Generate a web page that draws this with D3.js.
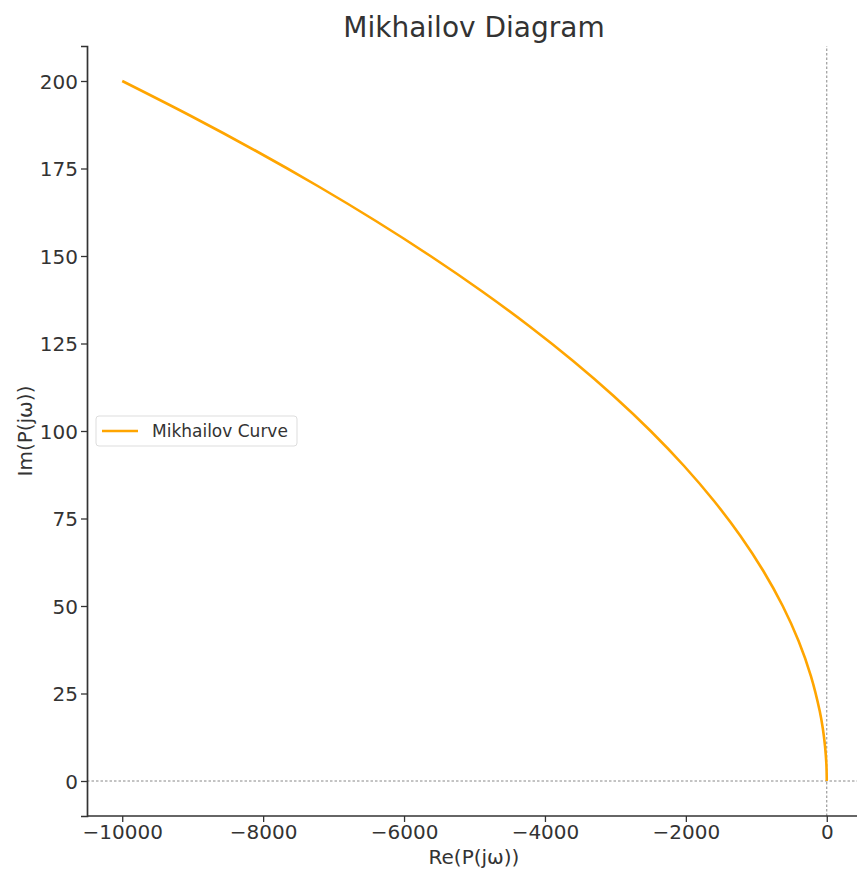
<!DOCTYPE html>
<html>
<head>
<meta charset="utf-8">
<script src="https://cdn.jsdelivr.net/npm/d3@7"></script>
<style>
  body { margin: 0; background: #fff; }
  text { font-family: "DejaVu Sans", sans-serif; fill: #333; }
</style>
</head>
<body>
<script>
var imPart = [0, 5, 10, 15, 20, 30, 40, 50, 60, 70, 80, 90, 100, 110, 120, 130, 140, 150, 160, 170, 180, 190, 200];
var rePart = [0, -6, -25, -56, -100, -225, -400, -625, -900, -1225, -1600, -2025, -2500, -3025, -3600, -4225, -4900, -5625, -6400, -7225, -8100, -9025, -10000];
var xTicks = [-10000, -8000, -6000, -4000, -2000, 0];
var yTicks = [0, 25, 50, 75, 100, 125, 150, 175, 200];

var width = 857, height = 873;
var margin = {left: 87, right: -5, top: 46, bottom: 57};

var x = d3.scaleLinear()
  .domain([-10500, 500])
  .range([margin.left, width - margin.right]);
var y = d3.scaleLinear()
  .domain([-10, 210])
  .range([height - margin.bottom, margin.top]);

var svg = d3.select("body").append("svg")
  .attr("width", width)
  .attr("height", height);

var points = imPart.map(function(d, i) { return [rePart[i], d]; });

// reference lines at zero
svg.append("line")
  .attr("x1", x(-10500)).attr("x2", x(500))
  .attr("y1", y(0)).attr("y2", y(0))
  .attr("stroke", "#888").attr("stroke-width", 1)
  .attr("stroke-dasharray", "2.5,2");
svg.append("line")
  .attr("x1", x(0)).attr("x2", x(0))
  .attr("y1", y(-10)).attr("y2", y(210))
  .attr("stroke", "#888").attr("stroke-width", 1)
  .attr("stroke-dasharray", "2.5,2");

var line = d3.line()
  .x(function(d) { return x(d[0]); })
  .y(function(d) { return y(d[1]); })
  .curve(d3.curveCatmullRom.alpha(0.5));

svg.append("path")
  .datum(points)
  .attr("d", line)
  .attr("fill", "none")
  .attr("stroke", "#FFA500")
  .attr("stroke-width", 2.6);

// axes
var xAxis = svg.append("g")
  .attr("transform", "translate(0," + (height - margin.bottom) + ")")
  .call(d3.axisBottom(x).tickValues(xTicks).tickSize(6).tickPadding(3)
    .tickFormat(function(d) { return d < 0 ? "\u2212" + Math.abs(d) : d; }));
var yAxis = svg.append("g")
  .attr("transform", "translate(" + margin.left + ",0)")
  .call(d3.axisLeft(y).tickValues(yTicks).tickSize(6).tickPadding(3));

[xAxis, yAxis].forEach(function(a) {
  a.select(".domain").attr("stroke", "#333").attr("stroke-width", 1.7);
  a.selectAll(".tick line").attr("stroke", "#333").attr("stroke-width", 1.3);
  a.selectAll(".tick text").style("font-size", "20px").attr("fill", "#333");
});
xAxis.select(".domain").attr("d", "M" + margin.left + ",0H" + width);
yAxis.selectAll(".tick text").attr("dy", "0.36em");

// title and labels
svg.append("text")
  .attr("x", 474).attr("y", 37)
  .attr("text-anchor", "middle")
  .style("font-size", "28px")
  .text("Mikhailov Diagram");
svg.append("text")
  .attr("x", 474).attr("y", 864)
  .attr("text-anchor", "middle")
  .style("font-size", "20px")
  .text("Re(P(j\u03c9))");
svg.append("text")
  .attr("transform", "translate(32," + y(100) + ") rotate(-90)")
  .attr("text-anchor", "middle")
  .style("font-size", "20px")
  .text("Im(P(j\u03c9))");

// legend
var legend = svg.append("g").attr("transform", "translate(96,416)");
legend.append("rect")
  .attr("width", 201).attr("height", 30).attr("rx", 3)
  .attr("fill", "#fff").attr("stroke", "#ddd").attr("stroke-width", 1);
legend.append("line")
  .attr("x1", 6).attr("x2", 42).attr("y1", 15).attr("y2", 15)
  .attr("stroke", "#FFA500").attr("stroke-width", 2.6);
legend.append("text")
  .attr("x", 56).attr("y", 21)
  .style("font-size", "17px")
  .text("Mikhailov Curve");
</script>
</body>
</html>
